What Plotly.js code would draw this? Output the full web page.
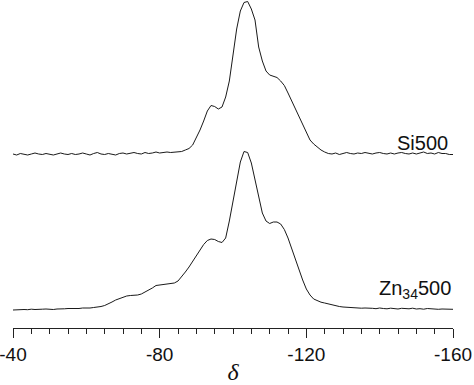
<!DOCTYPE html>
<html>
<head>
<meta charset="utf-8">
<script src="https://cdn.plot.ly/plotly-3.0.1.min.js"></script>
<style>html,body{margin:0;padding:0;background:#fff;}#chart{width:474px;height:385px;}</style>
</head>
<body>
<div id="chart"></div>
<script>
// Chemical shift (ppm) grid shared by both spectra
const delta = [-40,-41,-42,-43,-44,-45,-46,-47,-48,-49,-50,-51,-52,-53,-54,-55,-56,-57,-58,-59,
  -60,-61,-62,-63,-64,-65,-66,-67,-68,-69,-70,-71,-72,-73,-74,-75,-76,-77,-78,-79,
  -80,-81,-82,-83,-84,-85,-86,-87,-88,-89,-90,-91,-92,-93,-94,-95,-96,-97,-98,-99,
  -100,-101,-102,-103,-104,-105,-106,-107,-108,-109,-110,-111,-112,-113,-114,-115,-116,-117,-118,-119,
  -120,-121,-122,-123,-124,-125,-126,-127,-128,-129,-130,-131,-132,-133,-134,-135,-136,-137,-138,-139,
  -140,-141,-142,-143,-144,-145,-146,-147,-148,-149,-150,-151,-152,-153,-154,-155,-156,-157,-158,-159,-160];

// Si500 intensity (arbitrary units, baseline ~0)
const si500 = [1.0,0.0,1.5,1.0,0.0,1.0,2.0,1.0,0.5,1.5,0.5,0.0,1.0,2.0,1.0,0.5,1.5,0.5,1.0,2.0,
  1.0,0.0,1.5,2.5,1.0,0.5,1.5,1.0,0.0,1.5,2.0,1.0,1.5,2.5,1.5,1.0,2.5,1.5,2.0,3.0,
  2.0,2.5,3.0,2.5,3.0,3.5,3.5,5,6.5,10,17,25,34,44,49.5,48.5,46,48,58,74,
  100,126,144,152.5,153.5,146,135,108,94,84,80,78.5,77.5,74,69.5,62,54,46.5,38,29.5,
  21.5,15,11,7.5,5,3,1.5,1,2.0,0.5,1.5,2.5,1.5,1,2,1.5,2.5,1.5,1,2,
  2.5,1.5,1,2,1,2,2.5,1.5,1,2,1,2,3,1.5,2,1,2.5,1.5,1.5,0.5,0.5];

// Zn34500 intensity (arbitrary units, baseline ~0)
const zn34500 = [0,0.3,0,0.5,0.3,0.8,0.5,0.3,0.8,1,0.7,0.5,1,0.8,1.2,1.5,1.3,1.7,1.5,2,
  1.8,2,2.5,2.8,3.5,4.5,6,8,10,11.5,13,14,14.5,14.5,15,16,18,19.5,22,24.5,
  25,25.5,25.7,26,27,29,33,38,43,48.5,54,60,65.5,69.5,71,70.5,68.5,67.5,72,89,
  110,130,148,158.5,157.5,147,130,111,97,89,86.5,88,88,86,80.5,72,61,50,39.5,30,
  21,15,11,9,7.8,7,6,5.2,4.5,3.5,3,2.7,2.5,2,2.3,1.8,2,1.5,1.7,1.3,
  2,1.5,1.2,1.8,1.5,1,1.7,1.5,1.2,1.8,1,1.3,0.8,1.5,1,1.2,0.7,1,0.8,0.5,0.7];

// vertical stacking offsets of the two spectra
const offsets = {si500: 173, zn34500: 18};
const labels = {si500: 'Si500', zn34500: 'Zn<sub>34</sub>500'};

const labelTicks = [-40,-80,-120,-160];
const labelText = ['-40','-80','-120','-160'];
const longTicks = [-40,-60,-80,-100,-120,-140,-160];

const lineStyle = {color:'#1a1a1a', width:1};
const traces = [
  {x: delta, y: si500.map(v => v + offsets.si500), type:'scatter', mode:'lines', line: lineStyle, hoverinfo:'skip'},
  {x: delta, y: zn34500.map(v => v + offsets.zn34500), type:'scatter', mode:'lines', line: lineStyle, hoverinfo:'skip'}
];

const font = 'Liberation Sans, Arial, Helvetica, sans-serif';
const layout = {
  width:474, height:385,
  margin:{l:13, r:21, t:0, b:57},
  paper_bgcolor:'#fff', plot_bgcolor:'#fff',
  showlegend:false,
  xaxis:{
    range:[-40,-160], showgrid:false, zeroline:false,
    showline:true, linecolor:'#222', linewidth:1,
    ticks:'outside', ticklen:9, tickwidth:1, tickcolor:'#222',
    tickmode:'array', tickvals:labelTicks, ticktext:labelText,
    ticklabeloverflow:'allow',
    minor:{dtick:5, tick0:-40, ticks:'outside', ticklen:5, tickwidth:1, tickcolor:'#222', showgrid:false},
    tickfont:{family:font, size:19, color:'#111'},
    title:{text:'<i>δ</i>', font:{family:'Liberation Serif, DejaVu Serif, serif', size:24, color:'#111'}, standoff:7}
  },
  xaxis2:{
    overlaying:'x', anchor:'y', side:'bottom',
    range:[-40,-160], showgrid:false, zeroline:false, showline:false,
    ticks:'outside', ticklen:9, tickwidth:1, tickcolor:'#222',
    tickmode:'array', tickvals:longTicks, showticklabels:false
  },
  yaxis:{range:[0,328], visible:false, fixedrange:true},
  annotations:[
    {x:-159.3, y:185, xref:'x', yref:'y', xanchor:'right', yanchor:'middle', showarrow:false,
     text:labels.si500, font:{family:font, size:20, color:'#111'}},
    {x:-160, y:39, xref:'x', yref:'y', xanchor:'right', yanchor:'middle', showarrow:false,
     text:labels.zn34500, font:{family:font, size:20, color:'#111'}}
  ]
};
Plotly.newPlot('chart', traces, layout, {staticPlot:true, displayModeBar:false});
</script>
</body>
</html>
